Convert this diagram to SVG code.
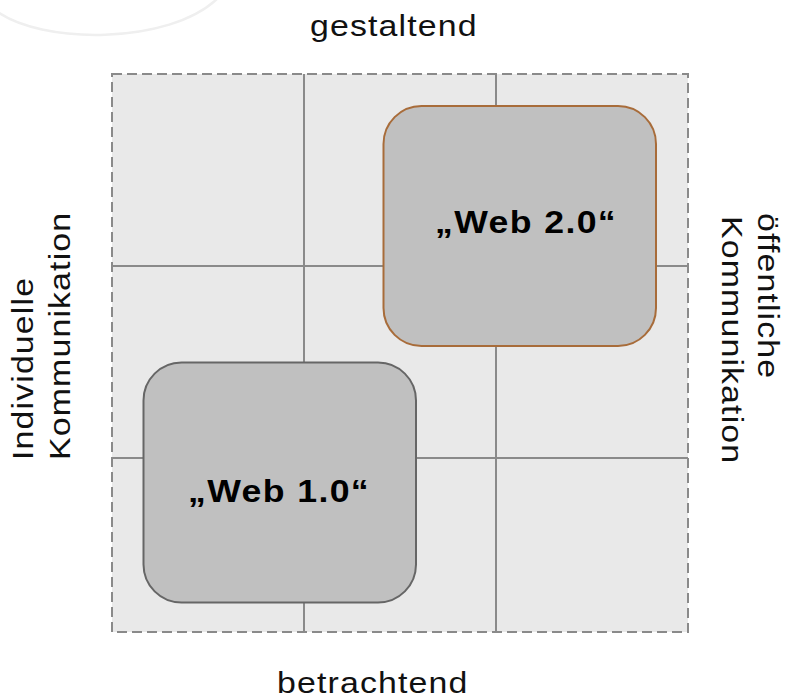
<svg xmlns="http://www.w3.org/2000/svg" width="787" height="700" viewBox="0 0 787 700">
  <style>
    .axis { font-family: "Liberation Sans", Arial, sans-serif; font-size: 30px; letter-spacing: 1px; fill: #111; }
    .node-label { font-family: "Liberation Sans", Arial, sans-serif; font-size: 31px; font-weight: bold; letter-spacing: 1.2px; fill: #000; }
    .grid-line { stroke: #8a8a8a; stroke-width: 2; fill: none; }
    .node-box { fill: #c0c0c0; stroke-width: 2; }
  </style>

  <rect x="0" y="0" width="787" height="700" fill="#ffffff"/>

  <!-- faint decorative arc, top left -->
  <path d="M -5 10 C 40 45, 170 45, 218 -2" fill="none" stroke="#efefef" stroke-width="2.5"/>

  <!-- quadrant field -->
  <g id="field">
    <rect x="112" y="74" width="576" height="558" fill="#e9e9e9" stroke="#8a8a8a" stroke-width="2" stroke-dasharray="10 5"/>
  </g>

  <!-- grid dividers -->
  <g id="connectors">
    <line class="grid-line" x1="304" y1="74" x2="304" y2="632"/>
    <line class="grid-line" x1="496" y1="74" x2="496" y2="632"/>
    <line class="grid-line" x1="112" y1="266" x2="688" y2="266"/>
    <line class="grid-line" x1="112" y1="458" x2="688" y2="458"/>
  </g>

  <g id="web20">
    <rect class="node-box" x="383.5" y="106" width="272.5" height="240" rx="38" ry="38" stroke="#a86c3a"/>
    <text class="node-label" transform="translate(435,233) scale(1.15,1)">„Web 2.0“</text>
  </g>

  <g id="web10">
    <rect class="node-box" x="143.5" y="362.5" width="272.5" height="240" rx="38" ry="38" stroke="#666666"/>
    <text class="node-label" transform="translate(188,502) scale(1.15,1)">„Web 1.0“</text>
  </g>

  <!-- axis labels, slightly widened along the reading direction -->
  <g id="label-top">
    <text class="axis" transform="translate(310,36) scale(1.13,1)">gestaltend</text>
  </g>
  <g id="label-bottom">
    <text class="axis" transform="translate(277,693) scale(1.13,1)">betrachtend</text>
  </g>
  <g id="label-left">
    <text class="axis" transform="translate(33,460) rotate(-90) scale(1.13,1)">Individuelle</text>
    <text class="axis" transform="translate(70,460) rotate(-90) scale(1.13,1)">Kommunikation</text>
  </g>
  <g id="label-right">
    <text class="axis" transform="translate(758,213) rotate(90) scale(1.13,1)">öffentliche</text>
    <text class="axis" transform="translate(722,216) rotate(90) scale(1.13,1)">Kommunikation</text>
  </g>
</svg>
